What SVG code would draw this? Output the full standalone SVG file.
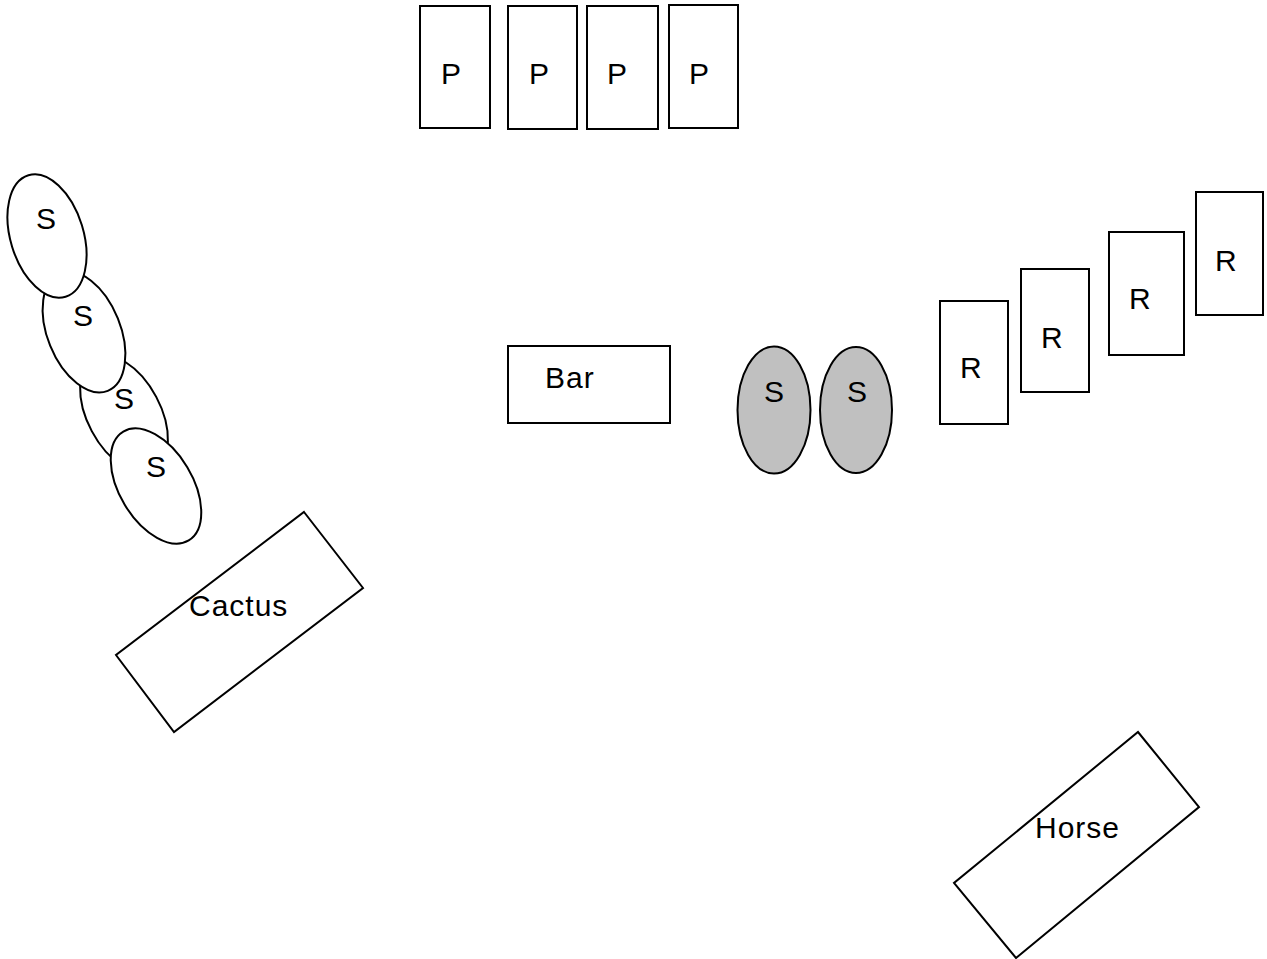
<svg xmlns="http://www.w3.org/2000/svg" width="1267" height="959" viewBox="0 0 1267 959">
<style>
.s{fill:#fff;stroke:#000;stroke-width:2}
.g{fill:#c0c0c0;stroke:#000;stroke-width:2}
.t{font-family:"Liberation Sans",Arial,sans-serif;font-size:30px;letter-spacing:1px;fill:#000}
</style>
<rect width="1267" height="959" fill="#fff"/>
<g id="p1"><rect class="s" x="420" y="6" width="70" height="122"/><text class="t" x="441" y="84">P</text></g>
<g id="p2"><rect class="s" x="508" y="6" width="69" height="123"/><text class="t" x="529" y="84">P</text></g>
<g id="p3"><rect class="s" x="587" y="6" width="71" height="123"/><text class="t" x="607" y="84">P</text></g>
<g id="p4"><rect class="s" x="669" y="5" width="69" height="123"/><text class="t" x="689" y="84">P</text></g>
<g id="bar"><rect class="s" x="508" y="346" width="162" height="77"/><text class="t" x="545" y="388">Bar</text></g>
<g id="gs1"><ellipse class="g" cx="774" cy="410" rx="36.5" ry="63.5"/><text class="t" x="764" y="402">S</text></g>
<g id="gs2"><ellipse class="g" cx="856" cy="410" rx="36" ry="63"/><text class="t" x="847" y="402">S</text></g>
<g id="r1"><rect class="s" x="940" y="301" width="68" height="123"/><text class="t" x="960" y="378">R</text></g>
<g id="r2"><rect class="s" x="1021" y="269" width="68" height="123"/><text class="t" x="1041" y="348">R</text></g>
<g id="r3"><rect class="s" x="1109" y="232" width="75" height="123"/><text class="t" x="1129" y="309">R</text></g>
<g id="r4"><rect class="s" x="1196" y="192" width="67" height="123"/><text class="t" x="1215" y="271">R</text></g>
<g id="s3"><ellipse class="s" cx="124" cy="414" rx="36.5" ry="63.5" transform="rotate(-28 124 414)"/></g>
<g id="s2"><ellipse class="s" cx="84" cy="332" rx="36.5" ry="63.5" transform="rotate(-22 84 332)"/></g>
<g id="s1"><ellipse class="s" cx="47" cy="236" rx="36.5" ry="63.5" transform="rotate(-17 47 236)"/></g>
<g id="s4"><ellipse class="s" cx="156" cy="486" rx="36.5" ry="63.5" transform="rotate(-31 156 486)"/></g>
<g id="slabels">
<text class="t" x="36" y="229">S</text>
<text class="t" x="73" y="326">S</text>
<text class="t" x="114" y="409">S</text>
<text class="t" x="146" y="477">S</text>
</g>
<g id="cactus"><polygon class="s" points="304,512 363,588 174,732 116,655"/><text class="t" x="189" y="616">Cactus</text></g>
<g id="horse"><polygon class="s" points="1138,732 1199,807 1016,958 954,883"/><text class="t" x="1035" y="838">Horse</text></g>
<g id="connectors"/>
</svg>
